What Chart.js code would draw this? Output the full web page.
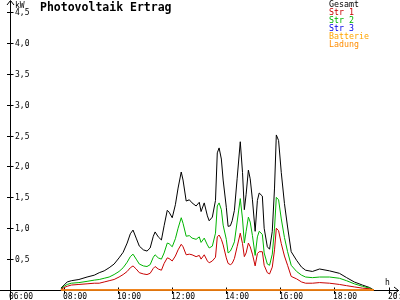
<!DOCTYPE html>
<html>
<head>
<meta charset="utf-8">
<script src="https://cdn.jsdelivr.net/npm/chart.js@4/dist/chart.umd.min.js"></script>
<style>
  html, body { margin: 0; padding: 0; background: #fff; }
  canvas { display: block; }
</style>
</head>
<body>
<canvas id="pv" width="400" height="300"></canvas>
<script>
// sample times
const times = ['07:53','08:00','08:07','08:16','08:33','08:51','09:07','09:18','09:29','09:40',
  '09:51','10:02','10:11','10:20','10:27','10:33','10:40','10:47','10:56','11:04',
  '11:11','11:18','11:22','11:29','11:36','11:42','11:49','11:53','12:00','12:07',
  '12:13','12:20','12:24','12:31','12:38','12:44','12:53','13:00','13:04','13:11',
  '13:18','13:22','13:29','13:36','13:40','13:44','13:49','13:53','14:00','14:04',
  '14:09','14:13','14:18','14:24','14:31','14:36','14:40','14:44','14:49','14:53',
  '14:58','15:04','15:09','15:13','15:20','15:24','15:31','15:36','15:42','15:47',
  '15:51','15:56','16:02','16:09','16:16','16:24','16:36','16:47','16:56','17:11',
  '17:27','17:49','18:11','18:27','18:44','19:02','19:18','19:27'];

// kW
const gesamt = [0.03,0.08,0.13,0.15,0.17,0.21,0.24,0.28,0.31,0.36,
  0.42,0.52,0.61,0.76,0.91,0.97,0.84,0.71,0.65,0.63,
  0.68,0.87,0.94,0.86,0.81,1.04,1.29,1.26,1.17,1.38,
  1.65,1.91,1.78,1.44,1.46,1.41,1.36,1.42,1.27,1.41,
  1.20,1.12,1.18,1.45,2.22,2.30,2.12,1.78,1.34,1.03,
  1.04,1.12,1.29,1.80,2.40,1.90,1.30,1.55,1.94,1.80,
  1.46,0.95,1.45,1.57,1.52,1.00,0.70,0.66,0.95,1.65,
  2.51,2.42,1.90,1.40,1.02,0.62,0.48,0.37,0.32,0.30,
  0.34,0.31,0.27,0.20,0.13,0.08,0.04,0.00];

const str1 = [0.01,0.04,0.06,0.08,0.09,0.10,0.11,0.11,0.13,0.15,
  0.17,0.21,0.25,0.30,0.36,0.39,0.34,0.28,0.26,0.25,
  0.27,0.35,0.38,0.34,0.32,0.43,0.52,0.51,0.47,0.55,
  0.65,0.74,0.70,0.57,0.58,0.57,0.54,0.56,0.50,0.57,
  0.47,0.44,0.47,0.53,0.86,0.89,0.82,0.73,0.52,0.43,
  0.41,0.43,0.51,0.70,0.92,0.75,0.54,0.60,0.76,0.70,
  0.58,0.39,0.59,0.62,0.62,0.40,0.28,0.26,0.37,0.65,
  1.00,0.96,0.75,0.55,0.40,0.22,0.18,0.13,0.11,0.11,
  0.12,0.11,0.09,0.07,0.05,0.03,0.02,0.00];

const str2 = [0.02,0.06,0.09,0.11,0.12,0.14,0.16,0.17,0.19,0.21,
  0.25,0.30,0.36,0.45,0.54,0.58,0.50,0.42,0.39,0.38,
  0.41,0.53,0.57,0.52,0.50,0.60,0.76,0.75,0.70,0.83,
  1.00,1.17,1.08,0.87,0.88,0.84,0.82,0.86,0.77,0.84,
  0.73,0.68,0.71,0.92,1.36,1.41,1.30,1.05,0.82,0.60,
  0.63,0.69,0.78,1.10,1.48,1.15,0.76,0.95,1.18,1.10,
  0.88,0.56,0.86,0.95,0.90,0.60,0.42,0.40,0.58,1.00,
  1.50,1.46,1.15,0.85,0.62,0.40,0.30,0.24,0.21,0.20,
  0.21,0.21,0.19,0.15,0.10,0.06,0.03,0.00];

// flat series (sit on the zero line)
const flatTimes = ['07:53','19:27'];
const str3 = [0, 0];
const batterie = [0, 0];
const ladung = [0, 0];

const xTicks = ['06:00','08:00','10:00','12:00','14:00','16:00','18:00','20:00'];
const yTicks = [0.5, 1.0, 1.5, 2.0, 2.5, 3.0, 3.5, 4.0, 4.5];

const toMin = s => { const [h, m] = s.split(':'); return h * 60 + +m; };
const pts = (t, v) => t.map((s, i) => ({ x: toMin(s), y: v[i] }));

const MONO = '"DejaVu Sans Mono", monospace';

const axesPlugin = {
  id: 'pvAxes',
  beforeDatasetsDraw(chart) {
    const { ctx, scales: { x, y } } = chart;
    const x0 = Math.round(x.getPixelForValue(360)) + 0.5;
    const y0 = Math.round(y.getPixelForValue(0)) + 0.5;
    ctx.save();
    ctx.strokeStyle = '#000';
    ctx.lineWidth = 1;
    ctx.beginPath();
    // axes, running past the origin
    ctx.moveTo(0, y0); ctx.lineTo(399, y0);
    ctx.moveTo(x0, 1); ctx.lineTo(x0, 300);
    // arrows
    ctx.moveTo(394, y0 - 3.5); ctx.lineTo(398.5, y0); ctx.lineTo(394, y0 + 3.5);
    ctx.moveTo(x0 - 3.5, 5); ctx.lineTo(x0, 0.5); ctx.lineTo(x0 + 3.5, 5);
    yTicks.forEach(v => {
      const py = Math.round(y.getPixelForValue(v)) + 0.5;
      ctx.moveTo(x0 - 3.5, py); ctx.lineTo(x0 + 3, py);
    });
    xTicks.forEach(t => {
      const px = Math.round(x.getPixelForValue(toMin(t))) + 0.5;
      ctx.moveTo(px, y0 - 3); ctx.lineTo(px, y0 + 3.5);
    });
    ctx.stroke();
    ctx.restore();
  },
  afterDraw(chart) {
    const { ctx, scales: { x, y } } = chart;
    const x0 = Math.round(x.getPixelForValue(360));
    const y0 = Math.round(y.getPixelForValue(0));
    ctx.save();
    ctx.fillStyle = '#000';
    ctx.font = '8px ' + MONO;
    ctx.textAlign = 'left';
    ctx.textBaseline = 'middle';
    yTicks.forEach(v => {
      ctx.fillText(v.toFixed(1).replace('.', ','), x0 + 5, Math.round(y.getPixelForValue(v)) + 0.5);
    });
    ctx.textBaseline = 'top';
    xTicks.forEach(t => {
      ctx.fillText(t, Math.round(x.getPixelForValue(toMin(t))) - 1, y0 + 3);
    });
    ctx.textBaseline = 'alphabetic';
    ctx.fillText('kW', x0 + 5, 8);
    ctx.fillText('h', 385, y0 - 5);

    // title
    ctx.font = 'bold 11.5px ' + MONO;
    ctx.fillText('Photovoltaik Ertrag', 40, 11);

    // legend
    ctx.font = '8.3px ' + MONO;
    ctx.textBaseline = 'middle';
    chart.data.datasets.forEach((ds, i) => {
      ctx.fillStyle = ds.textColor || ds.borderColor;
      ctx.fillText(ds.label, 329, 4.5 + i * 8);
    });
    ctx.restore();
  }
};

const line = (label, data, color, order, extra) => Object.assign({
  label, data, borderColor: color, borderWidth: 1, pointRadius: 0,
  showLine: true, tension: 0, fill: false, order, clip: false
}, extra || {});

new Chart(document.getElementById('pv'), {
  type: 'scatter',
  data: {
    datasets: [
      line('Gesamt', pts(times, gesamt), '#000000', 4),
      line('Str 1', pts(times, str1), '#c80000', 2),
      line('Str 2', pts(times, str2), '#00b400', 3),
      line('Str 3', pts(flatTimes, str3), '#0000e6', 5),
      line('Batterie', pts(flatTimes, batterie), '#ffa500', 1),
      line('Ladung', pts(flatTimes, ladung), '#ff8000', 0, { textColor: '#ff8c00', borderWidth: 1.5 })
    ]
  },
  options: {
    responsive: false,
    animation: false,
    devicePixelRatio: 1,
    layout: { padding: { left: 10, right: 2, top: 2, bottom: 10 } },
    plugins: { legend: { display: false }, title: { display: false }, tooltip: { enabled: false } },
    scales: {
      x: { type: 'linear', display: false, min: 360, max: 1221 },
      y: { type: 'linear', display: false, min: 0, max: 4.662 }
    }
  },
  plugins: [axesPlugin]
});
</script>
</body>
</html>
